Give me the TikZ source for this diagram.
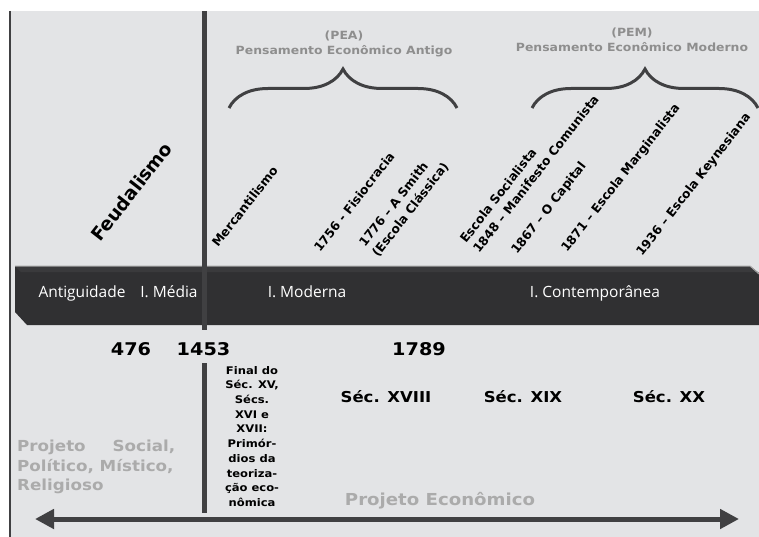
\documentclass[tikz,border=0pt]{standalone}
\usepackage{fontspec}
\usepackage{tikz}
\usetikzlibrary{arrows.meta,decorations.pathreplacing,positioning}
\newfontfamily\verdfont[FakeStretch=1.1]{DejaVu Sans}
\newfontfamily\tiltfont{DejaVu Sans}
\newfontfamily\barfont{Open Sans}
\definecolor{panel}{HTML}{E3E4E6}
\definecolor{barcol}{HTML}{303032}
\definecolor{barface}{HTML}{3A3A3C}
\definecolor{linecol}{HTML}{404042}
\definecolor{headgray}{HTML}{8E8E8E}
\definecolor{softgray}{HTML}{ABABAB}

\begin{document}
\begin{tikzpicture}
	[x=1pt,y=-1pt,
	era/.style={text=white,anchor=base,inner sep=0pt,font=\barfont\fontsize{15.5}{18}\selectfont},
	year/.style={anchor=base,inner sep=0pt,font=\verdfont\bfseries\fontsize{17.5}{20}\selectfont},
	sec/.style={anchor=base,inner sep=0pt,font=\verdfont\bfseries\fontsize{15}{18}\selectfont},
	tilted/.style={rotate=52,anchor=base west,align=left,inner sep=0pt,font=\tiltfont\bfseries\fontsize{12.3}{16.5}\selectfont},
	head/.style={text=headgray,align=center,inner sep=0pt,font=\verdfont\bfseries\fontsize{11.3}{15}\selectfont},
	project/.style={text=softgray,inner sep=0pt,font=\verdfont\bfseries\fontsize{15.2}{19.5}\selectfont},
	bracket/.style={draw=linecol,line width=3pt,decorate,decoration={brace,amplitude=39pt}}]
	\useasboundingbox (0,0) rectangle (759,537);
	\fill[panel] (10,11) rectangle (759,537);
	\draw[linecol,line width=2pt] (10,11) -- (10,537);
	
	% the time bar
	\fill[barcol] (15,266) -- (750,266) -- (759,273) -- (759,325) -- (27,325) -- (15,312) -- cycle;
	\fill[barface] (15,266) -- (750,266) -- (756,272) -- (21,272) -- cycle;
	\draw[gray!70,line width=1pt] (15,266) -- (750,266) -- (759,274);
	
	\coordinate (divtop) at (204,11);
	\coordinate (divbot) at (204,330);
	\coordinate (divtop2) at (204,363);
	\coordinate (divbot2) at (204,513);
	\draw[linecol,line width=5pt] (divtop) -- (divbot);
	\draw[linecol,line width=5pt] (divtop2) -- (divbot2);
	
	\node[era] (antig) at (82,297) {Antiguidade};
	\node[era] (media) at (169,297) {I. Média};
	\node[era] (moder) at (307,297) {I. Moderna};
	\node[era] (contemp) at (595,297) {I. Contemporânea};
	
	\node[year] (y476) at (131,355) {476};
	\node[year] (y1453) at (203.5,355) {1453};
	\node[year] (y1789) at (419,355) {1789};
	
	\node[sec] (s18) at (386,402) {Séc. XVIII};
	\node[sec] (s19) at (523,402) {Séc. XIX};
	\node[sec] (s20) at (669,402) {Séc. XX};
	
	\node[anchor=north,align=center,inner sep=0pt,font=\verdfont\bfseries\fontsize{10.5}{14.7}\selectfont] (primord) at (252,366)
		{Final do\\Séc. XV,\\Sécs.\\XVI e\\XVII:\\Primór-\\dios da\\teoriza-\\ção eco-\\nômica};
	
	% rotated schools (two-line ones anchored at their last line)
	\node[tilted,font=\tiltfont\bfseries\fontsize{18.5}{20}\selectfont] (feud) at (100,243) {Feudalismo};
	\node[tilted] (merc) at (218,248) {Mercantilismo};
	\node[tilted] (fisio) at (320,253) {1756 - Fisiocracia};
	\node[tilted] (smith) at (378,258) {1776 – A Smith\\(Escola Clássica)};
	\node[tilted] (social) at (479,254) {Escola Socialista\\1848 – Manifesto Comunista};
	\node[tilted] (capital) at (517,255) {1867 – O Capital};
	\node[tilted] (margin) at (567,253) {1871 – Escola Marginalista};
	\node[tilted] (keynes) at (642,257) {1936 – Escola Keynesiana};
	
	% braces
	\coordinate (peaL) at (229,108);
	\coordinate (peaR) at (457,108);
	\coordinate (pemL) at (532,108);
	\coordinate (pemR) at (758,108);
	\draw[bracket] (peaL) -- (peaR);
	\draw[bracket] (pemL) -- (pemR);
	\node[head] (peahead) at (344,44) {(PEA)\\Pensamento Econômico Antigo};
	\node[head] (pemhead) at (632,40) {(PEM)\\Pensamento Econômico Moderno};
	
	\node[project,anchor=north west,align=left] (socproj) at (17,440)
		{\hbox to 158pt{Projeto\hfill Social,}\\Político, Místico,\\Religioso};
	\node[project,anchor=base,font=\verdfont\bfseries\fontsize{16.5}{19}\selectfont] (ecoproj) at (440,505) {Projeto Econômico};
	
	\coordinate (westend) at (35,519);
	\coordinate (eastend) at (739,519);
	\draw[linecol,line width=5pt,{Triangle[length=19pt,width=19pt]}-{Triangle[length=19pt,width=19pt]}] (westend) -- (eastend);
\end{tikzpicture}
\end{document}
